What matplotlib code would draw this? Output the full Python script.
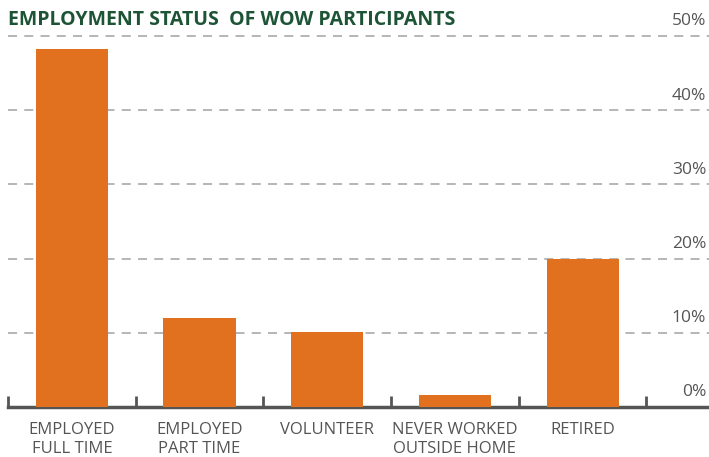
import numpy as np
import matplotlib.pyplot as plt

categories = ['EMPLOYED\nFULL TIME', 'EMPLOYED\nPART TIME', 'VOLUNTEER',
              'NEVER WORKED\nOUTSIDE HOME', 'RETIRED']
values = [48.3, 12, 10.1, 1.6, 20]
yticks = [0, 10, 20, 30, 40, 50]
ytick_labels = ['0%', '10%', '20%', '30%', '40%', '50%']

plt.rcParams['font.family'] = ['Open Sans', 'DejaVu Sans']

orange = '#e2711f'
green = '#1d5436'
grey = '#555555'

fig = plt.figure(figsize=(7.09, 4.57), dpi=100)
ax = fig.add_axes([8 / 709, 50 / 457, 701 / 709, (407 - 32.3) / 457])

x = np.arange(len(categories))
ax.bar(x, values, width=0.565, color=orange, zorder=3)

ax.set_xlim(-0.5, 4.99)
ax.set_ylim(0, 50.5)

# dashed grid
for v in yticks[1:]:
    ax.axhline(v, color='#b0b0b0', lw=1.3, linestyle=(0, (5, 4)), zorder=1)
for v, lab in zip(yticks, ytick_labels):
    ax.text(0.996, v + 0.9, lab, transform=ax.get_yaxis_transform(),
            ha='right', va='bottom', fontsize=12.5, color=grey)

ax.set_yticks([])
ax.set_xticks(x)
ax.set_xticklabels(categories, fontsize=12, color=grey, linespacing=1.22)
ax.tick_params(axis='x', which='major', length=0, pad=11)
ax.set_xticks(np.arange(-0.5, 5.0, 1.0), minor=True)
ax.tick_params(axis='x', which='minor', direction='in', length=8, width=2, color=grey)

for s in ['top', 'left', 'right']:
    ax.spines[s].set_visible(False)
ax.spines['bottom'].set_color(grey)
ax.spines['bottom'].set_linewidth(2.5)

fig.text(8 / 709, 1 - 25 / 457, 'EMPLOYMENT STATUS  OF WOW PARTICIPANTS',
         fontsize=14, fontweight='bold', color=green, va='baseline', ha='left')

fig.savefig('out.png', dpi=100)
